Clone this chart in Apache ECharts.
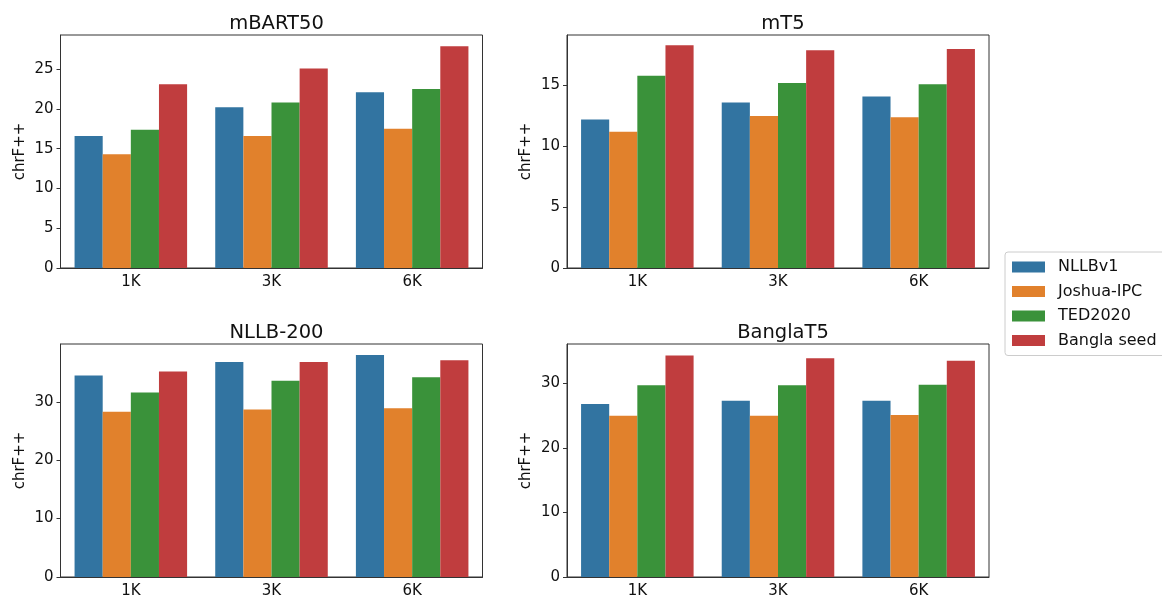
<!DOCTYPE html>
<html>
<head>
<meta charset="utf-8">
<script src="https://cdn.jsdelivr.net/npm/echarts@6/dist/echarts.min.js"></script>
<style>
  html, body { margin: 0; padding: 0; background: #fff; }
  #chart { width: 1162px; height: 601px; }
</style>
</head>
<body>
<div id="chart"></div>
<script>
// chrF++ scores, rows follow seriesNames, columns follow categories
const categories = ['1K', '3K', '6K']
const seriesNames = ['NLLBv1', 'Joshua-IPC', 'TED2020', 'Bangla seed']
const colors = ['#3274a1', '#e1812c', '#3a923a', '#c03d3e']

const models = ['mBART50', 'mT5', 'NLLB-200', 'BanglaT5']

const mbart50 = [
  [16.6, 20.2, 22.1],
  [14.3, 16.6, 17.5],
  [17.4, 20.8, 22.5],
  [23.1, 25.1, 27.9]
]
const mt5 = [
  [12.2, 13.6, 14.1],
  [11.2, 12.5, 12.4],
  [15.8, 15.2, 15.1],
  [18.3, 17.9, 18.0]
]
const nllb200 = [
  [34.5, 36.8, 38.0],
  [28.3, 28.7, 28.9],
  [31.6, 33.6, 34.2],
  [35.2, 36.8, 37.1]
]
const banglat5 = [
  [26.8, 27.3, 27.3],
  [25.0, 25.0, 25.1],
  [29.7, 29.7, 29.8],
  [34.3, 33.9, 33.5]
]
const modelData = [mbart50, mt5, nllb200, banglat5]

// y-axis upper limit and tick step per panel
const yMax = [29.3, 19.15, 39.9, 36.1]
const yStep = [5, 5, 10, 10]

const chart = echarts.init(document.getElementById('chart'))

const font = 'DejaVu Sans'
const panels = [
  { left: 60.5, top: 35 },
  { left: 567, top: 35 },
  { left: 60.5, top: 344 },
  { left: 567, top: 344 }
]
const gridW = 422
const gridH = 233

const grid = []
const xAxis = []
const yAxis = []
const title = []
const series = []

panels.forEach((p, i) => {
  grid.push({
    left: p.left,
    top: p.top,
    width: gridW,
    height: gridH,
    show: true,
    borderColor: '#333',
    borderWidth: 1,
    backgroundColor: '#fff'
  })
  title.push({
    text: models[i],
    left: p.left + gridW / 2,
    top: p.top - 26,
    textAlign: 'center',
    textStyle: { fontFamily: font, fontSize: 19.5, fontWeight: 'normal', color: '#111' }
  })
  xAxis.push({
    type: 'category',
    gridIndex: i,
    data: categories,
    axisLine: { lineStyle: { color: '#333' } },
    axisTick: { alignWithLabel: true, length: 4, lineStyle: { color: '#333' } },
    axisLabel: { fontFamily: font, fontSize: 15, color: '#111', margin: 7 }
  })
  yAxis.push({
    type: 'value',
    gridIndex: i,
    min: 0,
    max: yMax[i],
    interval: yStep[i],
    name: 'chrF++',
    nameLocation: 'middle',
    nameGap: 33,
    nameTextStyle: { fontFamily: font, fontSize: 15, color: '#111' },
    axisLine: { show: true, lineStyle: { color: '#333' } },
    axisTick: { show: true, length: 4, lineStyle: { color: '#333' } },
    splitLine: { show: false },
    axisLabel: { fontFamily: font, fontSize: 15, color: '#111', margin: 7, showMaxLabel: false }
  })
  modelData[i].forEach((vals, k) => {
    series.push({
      name: seriesNames[k],
      type: 'bar',
      xAxisIndex: i,
      yAxisIndex: i,
      data: vals,
      barGap: '0%',
      barCategoryGap: '20%',
      itemStyle: { color: colors[k] },
      emphasis: { disabled: true }
    })
  })
})

chart.setOption({
  animation: false,
  title: title,
  grid: grid,
  xAxis: xAxis,
  yAxis: yAxis,
  legend: {
    data: seriesNames,
    icon: 'rect',
    orient: 'vertical',
    left: 1005,
    top: 252,
    itemWidth: 33,
    itemHeight: 11,
    itemGap: 6.5,
    padding: [6, 10, 6, 7],
    borderColor: '#ccc',
    borderWidth: 1,
    borderRadius: 3,
    textStyle: { fontFamily: font, fontSize: 16, color: '#111', lineHeight: 18, padding: [0, 0, 0, 8] }
  },
  series: series
})
</script>
</body>
</html>
